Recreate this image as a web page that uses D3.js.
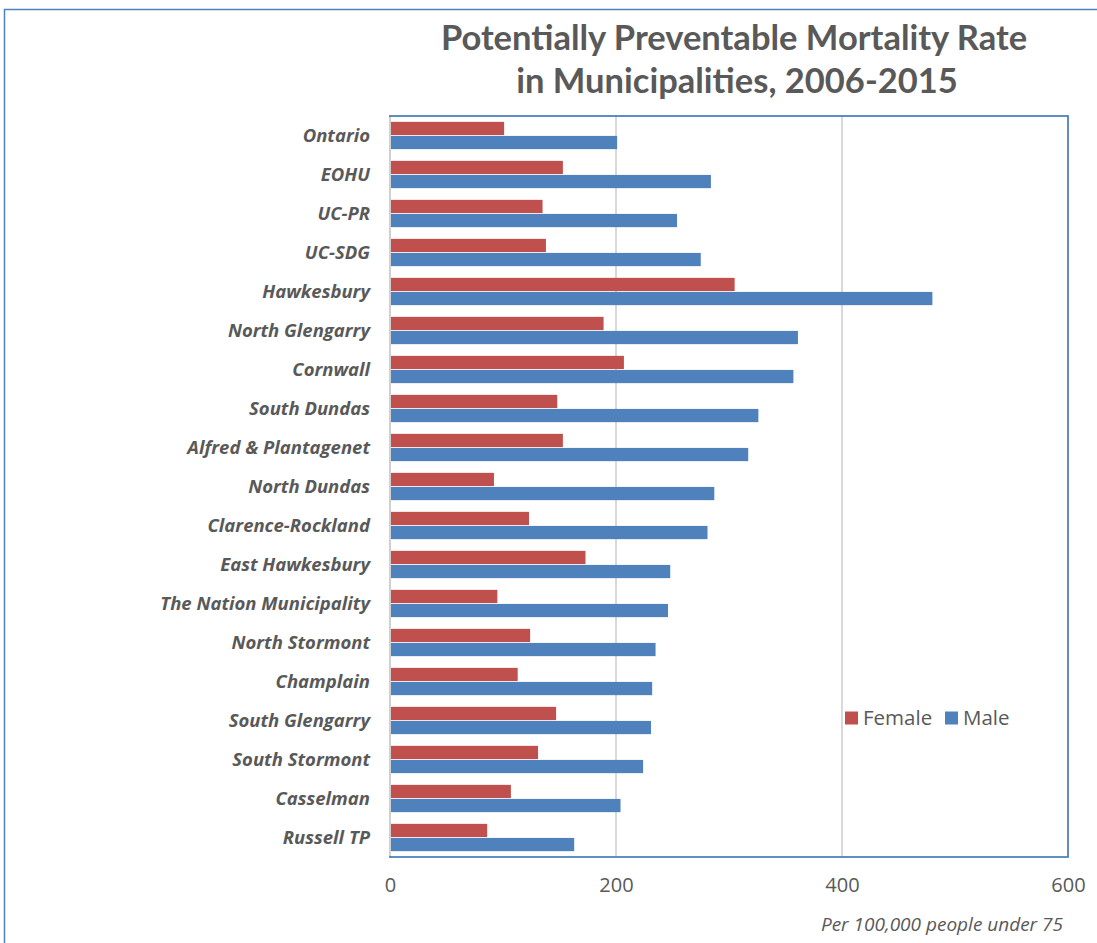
<!DOCTYPE html>
<html>
<head>
<meta charset="utf-8">
<script src="https://cdn.jsdelivr.net/npm/d3@7"></script>
<style>
  body { margin: 0; background: #fff; }
  svg { display: block; }
</style>
</head>
<body>
<svg id="chart" width="1097" height="943"></svg>
<script>
// DATA
const places = ["Ontario", "EOHU", "UC-PR", "UC-SDG", "Hawkesbury", "North Glengarry", "Cornwall",
  "South Dundas", "Alfred & Plantagenet", "North Dundas", "Clarence-Rockland", "East Hawkesbury",
  "The Nation Municipality", "North Stormont", "Champlain", "South Glengarry", "South Stormont",
  "Casselman", "Russell TP"];
const female = [101, 153, 135, 138, 305, 189, 207, 148, 153, 92, 123, 173, 95, 124, 113, 147, 131, 107, 86];
const male = [201, 284, 254, 275, 480, 361, 357, 326, 317, 287, 281, 248, 246, 235, 232, 231, 224, 204, 163];
const series = ["Female", "Male"];
const xTicks = [0, 200, 400, 600];

const grey = "#595959";
const colors = { Female: "#c0504d", Male: "#4f81bd" };

const svg = d3.select("#chart");

// outer frame
svg.append("path")
  .attr("d", "M4.5,943 L4.5,9.5 L1097,9.5")
  .attr("fill", "none")
  .attr("stroke", "#4f81bd")
  .attr("stroke-width", 1.5);

// title
const title = svg.append("text")
  .attr("text-anchor", "middle")
  .attr("font-family", "Lato, 'Open Sans', sans-serif")
  .attr("font-weight", "bold")
  .attr("font-size", 34.5)
  .attr("fill", grey);
title.append("tspan").attr("x", 734).attr("y", 50).text("Potentially Preventable Mortality Rate");
title.append("tspan").attr("x", 737).attr("y", 93).text("in Municipalities, 2006-2015");

const plot = { left: 390, top: 116, right: 1068, bottom: 857 };

const x = d3.scaleLinear().domain([0, 600]).range([plot.left, plot.right]);
const y = d3.scaleBand().domain(places).range([plot.top, plot.bottom]).paddingInner(0.3).paddingOuter(0.15);
const ySub = d3.scaleBand().domain(series).range([0, y.bandwidth()]).paddingInner(0.06);

// gridlines
svg.append("g")
  .selectAll("line")
  .data(xTicks.slice(1, -1))
  .join("line")
  .attr("x1", d => x(d)).attr("x2", d => x(d))
  .attr("y1", plot.top).attr("y2", plot.bottom)
  .attr("stroke", "#d9d9d9")
  .attr("stroke-width", 2);

// bars
const groups = svg.append("g")
  .selectAll("g")
  .data(places)
  .join("g")
  .attr("transform", d => `translate(0,${y(d)})`);

groups.selectAll("rect")
  .data((d, i) => series.map(s => ({ s, v: s === "Female" ? female[i] : male[i] })))
  .join("rect")
  .attr("x", x(0) + 1)
  .attr("y", d => ySub(d.s))
  .attr("width", d => x(d.v) - x(0) - 1)
  .attr("height", ySub.bandwidth())
  .attr("fill", d => colors[d.s]);

// plot frame
svg.append("rect")
  .attr("x", plot.left).attr("y", plot.top)
  .attr("width", plot.right - plot.left).attr("height", plot.bottom - plot.top)
  .attr("fill", "none")
  .attr("stroke", "#4f81bd")
  .attr("stroke-width", 1.8);
svg.append("line")
  .attr("x1", plot.left).attr("x2", plot.left)
  .attr("y1", plot.top + 1).attr("y2", plot.bottom - 1)
  .attr("stroke", "#d0d0d0")
  .attr("stroke-width", 2);

// category labels
const yAxis = svg.append("g")
  .attr("transform", `translate(${plot.left - 20},0)`)
  .call(d3.axisLeft(y).tickSize(0).tickPadding(0));
yAxis.select(".domain").remove();
yAxis.selectAll("text")
  .attr("font-family", "'Open Sans', sans-serif")
  .attr("font-weight", "bold")
  .attr("font-style", "italic")
  .attr("font-size", 18.5)
  .attr("fill", grey)
  .attr("dy", "0.35em");

// value axis
const xAxis = svg.append("g")
  .attr("transform", `translate(0,${plot.bottom})`)
  .call(d3.axisBottom(x).tickValues(xTicks).tickSize(0).tickPadding(21));
xAxis.select(".domain").remove();
xAxis.selectAll("text")
  .attr("font-family", "'Open Sans', sans-serif")
  .attr("font-size", 20)
  .attr("fill", grey);

svg.append("text")
  .attr("x", 1063).attr("y", 931)
  .attr("text-anchor", "end")
  .attr("font-family", "'Open Sans', sans-serif")
  .attr("font-style", "italic")
  .attr("font-size", 19)
  .attr("fill", grey)
  .text("Per 100,000 people under 75");

// legend
const legend = svg.append("g").attr("transform", "translate(845,718)");
const legendX = [0, 100];
const items = legend.selectAll("g")
  .data(series)
  .join("g")
  .attr("transform", (d, i) => `translate(${legendX[i]},0)`);
items.append("rect")
  .attr("x", 0).attr("y", -6.5)
  .attr("width", 13).attr("height", 13)
  .attr("fill", d => colors[d]);
items.append("text")
  .attr("x", 18).attr("y", 0).attr("dy", "0.35em")
  .attr("font-family", "'Open Sans', sans-serif")
  .attr("font-size", 20.5)
  .attr("fill", grey)
  .text(d => d);
</script>
</body>
</html>
